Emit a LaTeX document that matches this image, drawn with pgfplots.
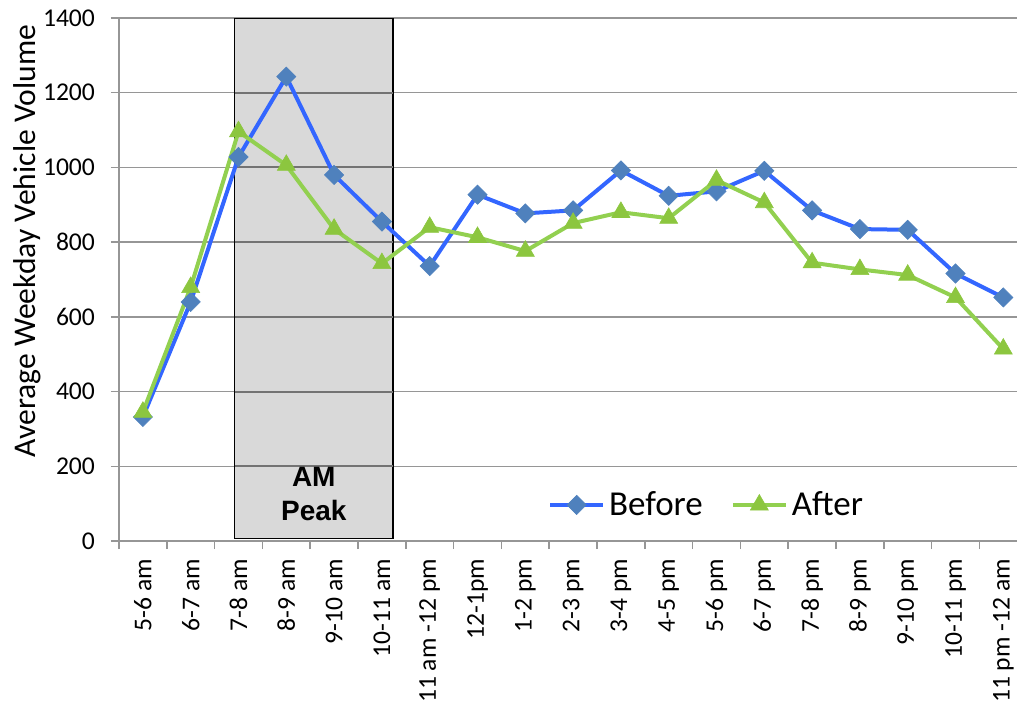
\documentclass[border=0pt]{standalone}
\usepackage{fontspec}
\setmainfont{Carlito}
\newfontfamily\arialfont{Liberation Sans}
\usepackage{pgfplots}
\usepackage{pgfplotstable}
\pgfplotsset{compat=1.18}

\definecolor{beforeline}{HTML}{3366FF}
\definecolor{beforemark}{HTML}{4F81BD}
\definecolor{afterline}{HTML}{92D050}
\definecolor{aftermark}{HTML}{8CC63F}
\definecolor{gridgray}{HTML}{969696}
\definecolor{peakfill}{HTML}{D9D9D9}

% average weekday volume per hour of the day
\pgfplotstableread{
idx before after
0   332    345
1   640    679
2   1028   1096
3   1243   1006
4   980    835
5   855    743
6   736    840
7   927    813
8   877    776
9   885    851
10  992    880
11  924    864
12  936    966
13  991    906
14  885    745
15  835    727
16  833    712
17  716    652
18  652    514
}\volumes

\begin{document}
\begin{tikzpicture}
\begin{axis}[
  at={(59.5pt,83.5pt)}, anchor=south west,
  scale only axis, width=454.1pt, height=261.5pt,
  xmin=-0.5, xmax=18.5, ymin=0, ymax=1400,
  axis x line*=bottom, axis y line*=left,
  axis line style={gridgray, line width=0.75pt},
  tick align=outside,
  major tick length=4pt, minor tick length=4pt,
  xtick={0,...,18},
  xticklabels={5-6 am, 6-7 am, 7-8 am, 8-9 am, 9-10 am, 10-11 am,
    11 am -12 pm, 12-1pm, 1-2 pm, 2-3 pm, 3-4 pm, 4-5 pm, 5-6 pm,
    6-7 pm, 7-8 pm, 8-9 pm, 9-10 pm, 10-11 pm, 11 pm -12 am},
  minor xtick={-0.5,0.5,...,18.5},
  major x tick style={draw=none},
  minor x tick style={gridgray, line width=0.75pt},
  x tick label style={yshift=-1.5pt, rotate=90, anchor=east,
    font=\fontsize{12.8}{15}\selectfont},
  ytick={0,200,...,1400},
  major y tick style={gridgray, line width=0.75pt},
  y tick label style={font=\fontsize{12.8}{15}\selectfont, xshift=-4.5pt},
  /pgf/number format/assume math mode=true,
  /pgf/number format/1000 sep={},
  ymajorgrids,
  grid style={gridgray, line width=0.75pt},
  legend columns=2,
  legend style={at={(0.648,0.069)}, anchor=center, draw=none, fill=none,
    font=\fontsize{17.5}{20}\selectfont,
    /tikz/every even column/.append style={column sep=12pt}},
  legend image code/.code={\draw[mark repeat=2, mark phase=2]
    plot coordinates {(0pt,0pt) (13.25pt,0pt) (26.5pt,0pt)};},
]
% shaded morning peak window
\addplot[forget plot, mark=none, fill=peakfill, draw=black, line width=0.75pt]
  coordinates {(1.92,7) (1.92,1400) (5.23,1400) (5.23,7)} -- cycle;
% grid lines continue across the shaded window
\addplot[forget plot, mark=none, draw=black!55, line width=1pt] coordinates {(1.92,200) (5.23,200)};
\addplot[forget plot, mark=none, draw=black!55, line width=1pt] coordinates {(1.92,400) (5.23,400)};
\addplot[forget plot, mark=none, draw=black!55, line width=1pt] coordinates {(1.92,600) (5.23,600)};
\addplot[forget plot, mark=none, draw=black!55, line width=1pt] coordinates {(1.92,800) (5.23,800)};
\addplot[forget plot, mark=none, draw=black!55, line width=1pt] coordinates {(1.92,1000) (5.23,1000)};
\addplot[forget plot, mark=none, draw=black!55, line width=1pt] coordinates {(1.92,1200) (5.23,1200)};

\addplot[beforeline, line width=2pt, mark=square*, mark size=3.4pt,
  mark options={rotate=45, fill=beforemark, draw=beforemark, line width=0.3pt}]
  table[x=idx, y=before] {\volumes};
\addplot[afterline, line width=2pt, mark=triangle*, mark size=5.2pt,
  mark options={fill=aftermark, draw=aftermark, line width=0.3pt}]
  table[x=idx, y=after] {\volumes};
\legend{Before, After}

\node[font=\arialfont\bfseries\fontsize{14}{17}\selectfont, align=center]
  at (axis cs:3.575,126) {AM\\Peak};
\end{axis}
\node[font=\fontsize{15.8}{18}\selectfont, rotate=90, anchor=base]
  at (17.75pt,233.5pt) {Average Weekday Vehicle Volume};
\pgfresetboundingbox
\path[use as bounding box] (0,0) rectangle (508.5pt,354pt);
\end{tikzpicture}
\end{document}
